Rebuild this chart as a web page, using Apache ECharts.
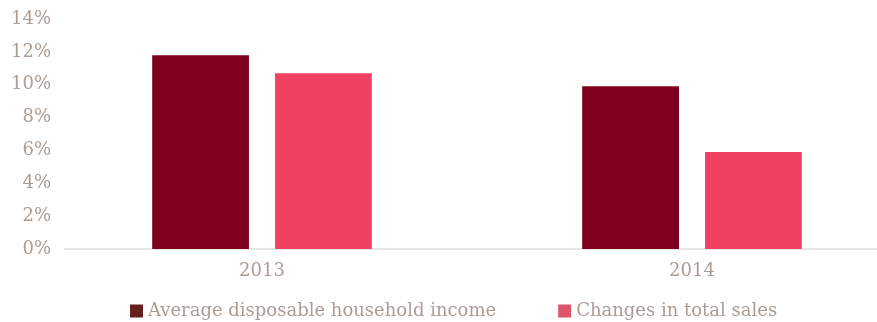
<!DOCTYPE html>
<html>
<head>
<meta charset="utf-8">
<script src="https://cdn.jsdelivr.net/npm/echarts@6/dist/echarts.min.js"></script>
<style>
  html, body { margin: 0; padding: 0; background: #fff; overflow: hidden; }
  /* the plot area runs a little past the right edge, like the original */
  #chart { width: 907px; height: 322px; }
</style>
</head>
<body>
<div id="chart"></div>
<script>
// data
const years = ['2013', '2014'];
const incomeGrowth = [11.8, 9.9];
const salesGrowth = [10.7, 5.9];
const yTicks = [0, 2, 4, 6, 8, 10, 12, 14];

const textColor = '#aa9d94';
const font = 'DejaVu Serif';

(function () {
    let myChart = echarts.init(document.getElementById('chart'));
    let option = {
        animation: false,
        // grid 0 holds the bars, grid 1 draws the visible axes
        grid: [
            { left: 47, right: 0, top: 19, bottom: 73 },
            { left: 65, right: 30, top: 19, bottom: 73 }
        ],
        legend: {
            top: 297,
            left: 125,
            itemWidth: 13,
            itemHeight: 13,
            itemGap: 62,
            icon: 'rect',
            textStyle: { color: textColor, fontFamily: font, fontSize: 18 },
            data: [
                { name: 'Average disposable household income', itemStyle: { color: '#652020' } },
                { name: 'Changes in total sales', itemStyle: { color: '#de566b' } }
            ]
        },
        xAxis: [
            {
                type: 'category',
                gridIndex: 0,
                data: years,
                axisLine: { show: false },
                axisTick: { show: false },
                axisLabel: { color: textColor, fontFamily: font, fontSize: 18, margin: 13 }
            },
            {
                type: 'category',
                gridIndex: 1,
                data: years,
                axisLine: { lineStyle: { color: '#e6e6e6', width: 2 } },
                axisTick: { show: false },
                axisLabel: { show: false }
            }
        ],
        yAxis: [
            {
                type: 'value',
                gridIndex: 0,
                min: yTicks[0],
                max: yTicks[yTicks.length - 1],
                interval: 2,
                show: false
            },
            {
                type: 'value',
                gridIndex: 1,
                min: yTicks[0],
                max: yTicks[yTicks.length - 1],
                interval: 2,
                splitLine: { show: false },
                axisLine: { show: false },
                axisTick: { show: false },
                axisLabel: {
                    color: textColor, fontFamily: font, fontSize: 18, margin: 14,
                    formatter: '{value}%'
                }
            }
        ],
        series: [
            {
                name: 'Average disposable household income',
                type: 'bar',
                xAxisIndex: 0,
                yAxisIndex: 0,
                data: incomeGrowth,
                barWidth: '22.5%',
                barGap: '27%',
                itemStyle: { color: '#7f001c' }
            },
            {
                name: 'Changes in total sales',
                type: 'bar',
                xAxisIndex: 0,
                yAxisIndex: 0,
                data: salesGrowth,
                barWidth: '22.5%',
                itemStyle: { color: '#f14062' }
            }
        ]
    };
    myChart.setOption(option);
    window.addEventListener('resize', function () {
        myChart.resize()
    })
})();
</script>
</body>
</html>
